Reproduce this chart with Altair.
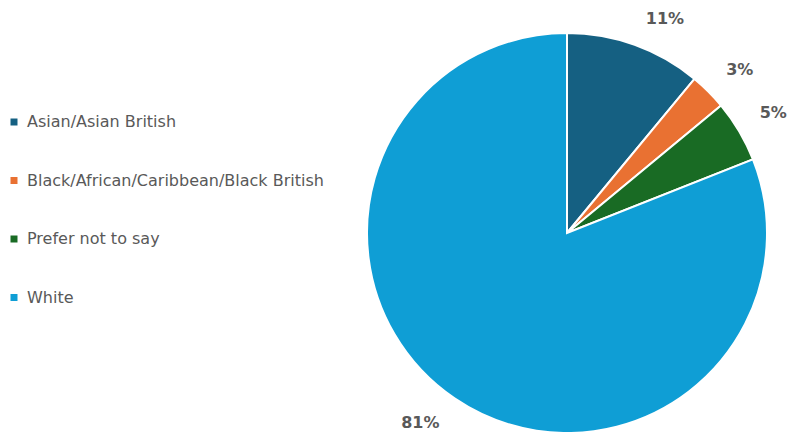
import altair as alt
import pandas as pd

# Ethnicity breakdown (share of respondents, %)
groups = ["Asian/Asian British", "Black/African/Caribbean/Black British", "Prefer not to say", "White"]
shares = [11, 3, 5, 81]
colors = ["#156082", "#E97132", "#196B24", "#0F9ED5"]

df = pd.DataFrame({"group": groups, "share": shares, "order": list(range(len(groups)))})
df["label"] = df["share"].astype(str) + "%"

cx, cy, r = 567, 233, 200
font = "DejaVu Sans"
grey = "#595959"

pie = alt.Chart(df).mark_arc(stroke="white", strokeWidth=2).encode(
    theta=alt.Theta("share:Q", stack=True),
    order=alt.Order("order:Q"),
    x=alt.value(cx),
    y=alt.value(cy),
    radius=alt.value(r),
    color=alt.Color(
        "group:N",
        sort=groups,
        scale=alt.Scale(domain=groups, range=colors),
        legend=alt.Legend(
            title=None,
            orient="none",
            legendX=6,
            legendY=114,
            symbolType="square",
            symbolSize=49,
            symbolStrokeWidth=0,
            labelFontSize=16,
            labelColor=grey,
            labelFont=font,
            labelLimit=0,
            rowPadding=42.5,
            labelOffset=5,
        ),
    ),
)

# Slice mid-points (in % of the whole) for the outside labels
label_base = (
    alt.Chart(df)
    .transform_window(cum="sum(share)", sort=[alt.SortField("order")])
    .transform_calculate(mid="datum.cum - datum.share / 2")
    .encode(
        theta=alt.Theta("mid:Q", scale=alt.Scale(domain=[0, 100], range=[0, 6.283185307]), stack=False),
        x=alt.value(cx),
        y=alt.value(cy),
        radius=alt.value(r + 18),
        text="label:N",
    )
)

text_style = dict(fontSize=16, fontWeight="bold", color=grey, font=font)

labels_right = label_base.transform_filter("datum.mid < 50").mark_text(
    align="left", baseline="bottom", dx=5, dy=-1, **text_style
)
labels_left = label_base.transform_filter("datum.mid >= 50").mark_text(
    align="right", baseline="top", dx=-5, dy=2, **text_style
)

chart = (
    alt.layer(pie, labels_right, labels_left)
    .properties(width=787, height=432, autosize=alt.AutoSizeParams(type="none"), padding=0)
    .configure_view(stroke=None)
)

chart.save("out.html", embed_options={"renderer": "svg", "actions": False})
